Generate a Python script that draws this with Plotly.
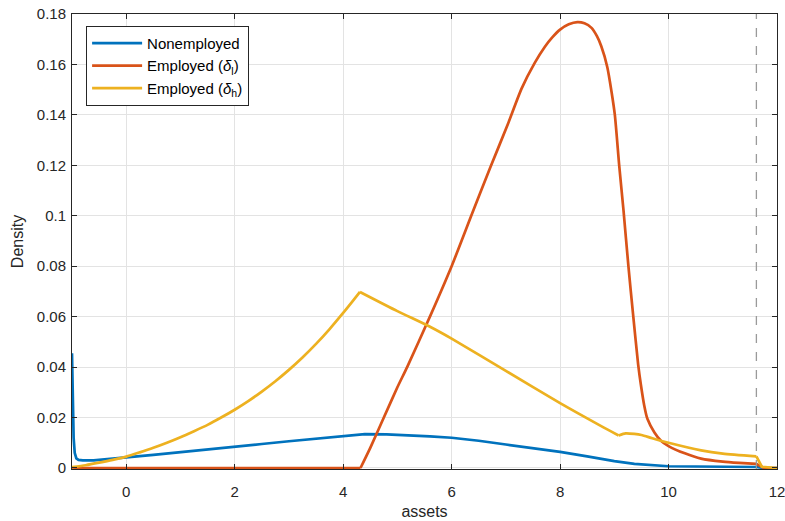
import plotly.graph_objects as go

# ---- data ----
assets_nonemp = [-1, -0.99, -0.97, -0.95, -0.92, -0.88, -0.8, -0.6, -0.3, 0, 0.5, 1, 1.5, 2, 2.5, 3,
                 3.5, 4, 4.4, 4.8, 5.2, 5.6, 6, 6.5, 7, 7.5, 8, 8.5, 8.75, 9, 9.37, 9.7, 10, 10.5,
                 11, 11.62, 11.75, 12]
dens_nonemp = [0.0455, 0.03, 0.012, 0.006, 0.0038, 0.0032, 0.003, 0.003, 0.0035, 0.0042, 0.0052,
               0.0062, 0.0073, 0.0084, 0.0095, 0.0106, 0.0117, 0.0128, 0.0134, 0.0133, 0.0130,
               0.0125, 0.0120, 0.0108, 0.0093, 0.0079, 0.0064, 0.0046, 0.0036, 0.0027, 0.0016,
               0.0010, 0.0007, 0.0006, 0.0005, 0.0004, 0.0, 0.0]

assets_low = [-1, 4.32, 4.5, 4.75, 5.0, 5.18, 5.6, 6.0, 6.38, 6.72, 7.04, 7.29, 7.53, 7.72, 7.86,
              8.0, 8.16, 8.32, 8.45, 8.58, 8.68, 8.76, 8.87, 8.95, 9.01, 9.09, 9.17, 9.26, 9.35,
              9.44, 9.49, 9.55, 9.61, 9.74, 9.86, 10.0, 10.3, 10.6, 11.0, 11.3, 11.62, 11.76, 12]
dens_low = [0.0, 0.0, 0.008, 0.02, 0.032, 0.04, 0.06, 0.08, 0.101, 0.1195, 0.1365, 0.1504, 0.1605,
            0.1670, 0.1708, 0.1738, 0.1759, 0.1768, 0.1763, 0.1745, 0.1712, 0.1672, 0.159, 0.149,
            0.14, 0.12, 0.102, 0.08, 0.06, 0.041, 0.033, 0.025, 0.0195, 0.0141, 0.0108, 0.0087,
            0.0058, 0.0037, 0.0025, 0.0020, 0.0016, 0.0, 0.0]

assets_high = [-1, -0.75, -0.5, -0.25, 0, 0.25, 0.5, 0.75, 1, 1.25, 1.5, 1.75, 2, 2.25, 2.5, 2.75,
               3, 3.25, 3.5, 3.75, 4.0, 4.15, 4.31, 5.0, 5.61, 6.0, 7.0, 8.0, 8.75, 9.08, 9.21,
               9.37, 9.5, 9.7, 10.0, 10.6, 11.0, 11.62, 11.72, 12]
dens_high = [0.0003, 0.0011, 0.0021, 0.0032, 0.0045, 0.0062, 0.0080, 0.0100, 0.0122, 0.0146,
             0.0171, 0.0200, 0.0231, 0.0265, 0.0303, 0.0344, 0.0389, 0.0438, 0.0492, 0.0551,
             0.0615, 0.0655, 0.0698, 0.0622, 0.0559, 0.0513, 0.0385, 0.0257, 0.0167, 0.0129,
             0.0137, 0.0135, 0.0131, 0.0118, 0.0100, 0.0070, 0.0057, 0.0046, 0.0005, 0.0]

a_max = 11.62

x_ticks = [0, 2, 4, 6, 8, 10, 12]
y_ticks = [0, 0.02, 0.04, 0.06, 0.08, 0.1, 0.12, 0.14, 0.16, 0.18]
y_ticklabels = ["0", "0.02", "0.04", "0.06", "0.08", "0.1", "0.12", "0.14", "0.16", "0.18"]

series_names = ["Nonemployed", "Employed (<i>δ</i><sub>l</sub>)", "Employed (<i>δ</i><sub>h</sub>)"]
colors = ["#0072BD", "#D95319", "#EDB120"]
LW = 2.7


def pieces(xs, ys, breaks):
    """Split a series at kink positions so each smooth piece can be splined."""
    idx = [0] + [xs.index(b) for b in breaks] + [len(xs) - 1]
    return [(xs[a:b + 1], ys[a:b + 1]) for a, b in zip(idx[:-1], idx[1:])]


fig = go.Figure()
fig.add_trace(go.Scatter(x=assets_nonemp, y=dens_nonemp, mode="lines", name=series_names[0],
                         line=dict(color=colors[0], width=LW)))

# (shape per piece): flat / hump / tail drop
for k, ((px, py), shp) in enumerate(zip(pieces(assets_low, dens_low, [4.32, 11.62]),
                                        ["linear", "spline", "linear"])):
    fig.add_trace(go.Scatter(x=px, y=py, mode="lines", name=series_names[1], legendgroup="low",
                             showlegend=(k == 1),
                             line=dict(color=colors[1], width=LW, shape=shp, smoothing=0.6)))

for k, ((px, py), shp) in enumerate(zip(pieces(assets_high, dens_high, [4.31, 9.08, 11.62]),
                                        ["spline", "spline", "spline", "linear"])):
    fig.add_trace(go.Scatter(x=px, y=py, mode="lines", name=series_names[2], legendgroup="high",
                             showlegend=(k == 0),
                             line=dict(color=colors[2], width=LW, shape=shp, smoothing=0.6)))

fig.add_shape(type="line", xref="x", yref="paper", x0=a_max, x1=a_max, y0=0, y1=1,
              line=dict(color="#9a9a9a", width=1.3, dash="dash"), layer="above")

axis_common = dict(showline=True, mirror="ticks", linecolor="#262626", linewidth=1,
                   ticks="inside", ticklen=5, tickcolor="#262626", showgrid=True,
                   gridcolor="#e3e3e3", gridwidth=1, zeroline=False, automargin=False,
                   ticklabeloverflow="allow",
                   tickfont=dict(size=15, color="#262626"))

fig.update_xaxes(range=[-1, 12], tickvals=x_ticks, ticklabelstandoff=9,
                 title=dict(text="assets", standoff=6, font=dict(size=16, color="#262626")),
                 **axis_common)
fig.update_yaxes(range=[-0.0004, 0.18], tickvals=y_ticks, ticktext=y_ticklabels,
                 ticklabelstandoff=2,
                 title=dict(text="Density", standoff=9, font=dict(size=16, color="#262626")),
                 **axis_common)

fig.update_layout(
    width=785, height=521,
    margin=dict(l=72, r=8, t=14, b=52),
    paper_bgcolor="white", plot_bgcolor="white",
    font=dict(family="Liberation Sans, Arial, sans-serif", size=15, color="#262626"),
    showlegend=True,
    legend=dict(x=0.02, y=0.974, xanchor="left", yanchor="top", bgcolor="white",
                bordercolor="#262626", borderwidth=1, font=dict(size=15, color="#000000"),
                itemwidth=50, traceorder="normal", tracegroupgap=0),
)

fig.write_html("out.html")
